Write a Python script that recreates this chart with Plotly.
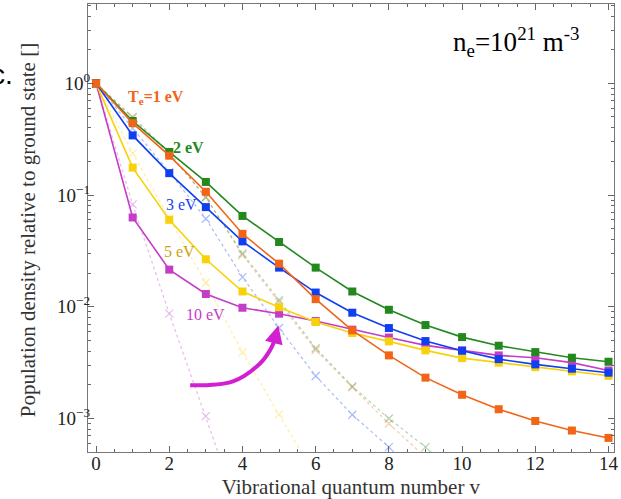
import plotly.graph_objects as go
import numpy as np

v = list(range(15))

# Collisional-radiative populations (solid lines, squares)
pop_1eV = [1, 0.44, 0.225, 0.107, 0.045, 0.0243, 0.0117, 0.00615, 0.00367, 0.00232, 0.00163, 0.00121, 0.00095, 0.00078, 0.00067]
pop_2eV = [1, 0.46, 0.243, 0.131, 0.065, 0.038, 0.0224, 0.0137, 0.0094, 0.00686, 0.00535, 0.00448, 0.00393, 0.0035, 0.00322]
pop_3eV = [1, 0.342, 0.157, 0.078, 0.0385, 0.0224, 0.0134, 0.00885, 0.00645, 0.00493, 0.00404, 0.0034, 0.00305, 0.00279, 0.00257]
pop_5eV = [1, 0.176, 0.060, 0.0266, 0.0137, 0.0099, 0.0073, 0.00582, 0.0049, 0.00407, 0.00347, 0.00316, 0.00288, 0.00264, 0.00241]
pop_10eV = [1, 0.063, 0.0215, 0.0130, 0.0098, 0.00867, 0.00745, 0.00624, 0.0053, 0.00451, 0.00407, 0.00367, 0.0035, 0.00316, 0.00269]

# Boltzmann-like references (dotted lines, crosses)
bz_1eV = [1, 0.49, 0.23, 0.096, 0.029, 0.011, 0.0041, 0.0019, 0.0009, 0.00045]
bz_2eV = [1, 0.50, 0.24, 0.095, 0.030, 0.0115, 0.00427, 0.00194, 0.0010, 0.000555, 0.00028]
bz_3eV = [1, 0.395, 0.16, 0.0614, 0.01845, 0.00645, 0.0024, 0.00108, 0.000555, 0.00025]
bz_5eV = [1, 0.236, 0.062, 0.0164, 0.0039, 0.00109, 0.0003]
bz_10eV = [1, 0.0826, 0.00867, 0.00105, 0.00012]

series = [
    ("Tₑ=1 eV", pop_1eV, bz_1eV, "#f26418"),
    ("2 eV", pop_2eV, bz_2eV, "#23891f"),
    ("3 eV", pop_3eV, bz_3eV, "#0f3ff0"),
    ("5 eV", pop_5eV, bz_5eV, "#f7d20a"),
    ("10 eV", pop_10eV, bz_10eV, "#c43cc8"),
]

# arrow path (data coords)
arrow_x = [2.57, 3.74, 4.48, 4.75, 4.9]
arrow_y = [0.00198, 0.00215, 0.00311, 0.00407, 0.0052]

fig = go.Figure()

for name, pop, bz, col in series:
    fig.add_trace(go.Scatter(
        x=v[:len(bz)], y=bz, mode="lines+markers",
        line=dict(color=col, width=1.2, dash="dot"),
        marker=dict(symbol="x-thin", size=8, line=dict(color=col, width=1.2)),
        opacity=0.35, showlegend=False, cliponaxis=True))

for name, pop, bz, col in reversed(series):
    fig.add_trace(go.Scatter(
        x=v, y=pop, mode="lines+markers",
        line=dict(color=col, width=1.6),
        marker=dict(symbol="square", size=8, color=col),
        showlegend=False, name=name))

fig.add_trace(go.Scatter(
    x=arrow_x, y=arrow_y, mode="lines", line=dict(color="#d21fd2", width=4, shape="spline"),
    showlegend=False, hoverinfo="skip"))

fig.add_annotation(x=4.98, y=np.log10(0.0068), ax=4.86, ay=np.log10(0.0048),
                   xref="x", yref="y", axref="x", ayref="y", text="",
                   showarrow=True, arrowhead=2, arrowsize=0.9, arrowwidth=4,
                   arrowcolor="#d21fd2", standoff=0, startstandoff=0)

labels = [
    ("T<sub>e</sub>=1 eV", 0.82, 0.74, "#f26418", True),
    ("2 eV", 2.05, 0.265, "#23891f", True),
    ("3 eV", 1.85, 0.082, "#1a3ff0", False),
    ("5 eV", 1.8, 0.031, "#c9a514", False),
    ("10 eV", 2.4, 0.0085, "#c43cc8", False),
]
for txt, lx, ly, col, bold in labels:
    fig.add_annotation(x=lx, y=np.log10(ly), xref="x", yref="y", text=(f"<b>{txt}</b>" if bold else txt),
                       showarrow=False, xanchor="left", yanchor="middle",
                       font=dict(family="Liberation Serif", size=16, color=col))

fig.add_annotation(x=0.94, y=0.915, xref="paper", yref="paper", xanchor="right", yanchor="middle",
                   text="n<sub>e</sub>=10<sup>21</sup> m<sup>-3</sup>", showarrow=False,
                   font=dict(family="Liberation Serif", size=27, color="black"))

fig.add_annotation(x=-0.139, y=0.842, xref="paper", yref="paper", xanchor="right", yanchor="middle",
                   text="c.", showarrow=False,
                   font=dict(family="Liberation Sans", size=28, color="black"))

# y-axis title placed as a rotated annotation
fig.add_annotation(x=-0.114, y=0.495, xref="paper", yref="paper", xanchor="center", yanchor="middle",
                   text="Population density relative to ground state []", textangle=-90,
                   showarrow=False, font=dict(family="Liberation Serif", size=21, color="#333"))

yt = [1e-3, 1e-2, 1e-1, 1]
ytt = ["10<sup>−3</sup>", "10<sup>−2</sup>", "10<sup>−1</sup>", "10<sup>0</sup>"]

fig.update_layout(
    width=621, height=499,
    margin=dict(l=88, r=7, t=4, b=47),
    plot_bgcolor="white", paper_bgcolor="white",
    font=dict(family="Liberation Serif", color="#222"),
    xaxis=dict(range=[-0.22, 14.15], tickvals=[0, 2, 4, 6, 8, 10, 12, 14], automargin=False,
               ticks="inside", ticklen=6, tickcolor="#666", showgrid=False, zeroline=False,
               showline=True, linecolor="#777", linewidth=1, mirror="ticks",
               tickfont=dict(size=19, color="#222"), ticklabelstandoff=-6,
               minor=dict(ticks="inside", ticklen=3, dtick=0.5, tickcolor="#666", showgrid=False),
               title=dict(text="Vibrational quantum number v", font=dict(size=21, color="#333"), standoff=11)),
    yaxis=dict(type="log", range=[-3.30, 0.71], tickvals=yt, ticktext=ytt, automargin=False,
               ticks="inside", ticklen=6, tickcolor="#666", showgrid=False, zeroline=False,
               showline=True, linecolor="#777", linewidth=1, mirror="ticks",
               tickfont=dict(size=19, color="#222"), ticklabelstandoff=-7,
               minor=dict(ticks="inside", ticklen=3, dtick="D1", tickcolor="#666", showgrid=False)),
)

fig.write_html("out.html", config={"displayModeBar": False},
               post_script="document.body.style.margin='0px';document.body.style.overflow='hidden';")
